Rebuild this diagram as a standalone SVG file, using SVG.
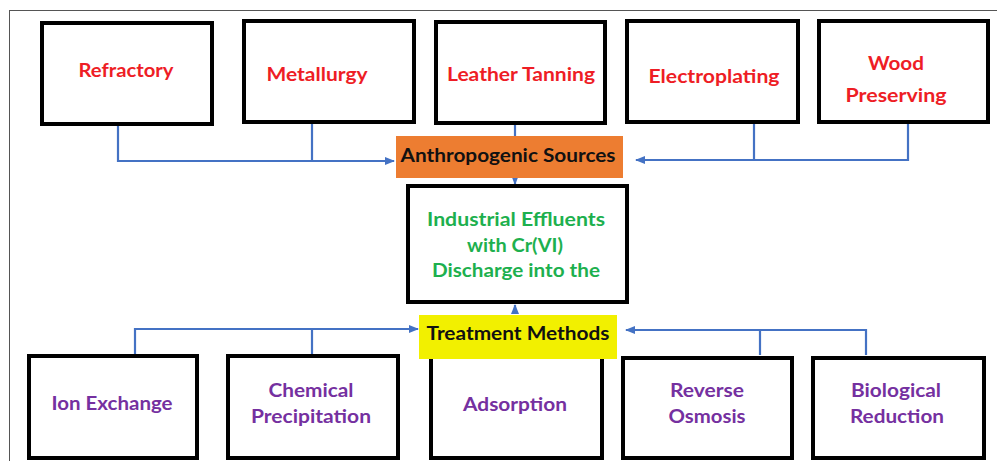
<svg xmlns="http://www.w3.org/2000/svg" width="997" height="461" viewBox="0 0 997 461">
<style>
.box{fill:#fff;stroke:#000;stroke-width:4}
.t{font-family:Lato,"Open Sans","Liberation Sans",sans-serif;font-weight:bold;font-size:19px;text-anchor:middle}
.red{fill:#EE1D25}
.grn{fill:#1DB04E}
.pur{fill:#7530A0}
.blk{fill:#111}
.ln{fill:none;stroke:#4472C4;stroke-width:2.2}
</style>
<defs>
<marker id="ah" markerUnits="userSpaceOnUse" markerWidth="10" markerHeight="10" viewBox="0 0 10 10" refX="9" refY="5" orient="auto">
<path d="M0,1 L10,5 L0,9 Z" fill="#4472C4"/>
</marker>
</defs>
<rect x="0" y="0" width="997" height="461" fill="#fff"/>
<rect x="9.5" y="10.5" width="1000" height="470" fill="none" stroke="#555" stroke-width="1"/>

<g id="connectors">
<path class="ln" d="M118,126 V161 H394" marker-end="url(#ah)"/>
<path class="ln" d="M312,124 V161"/>
<path class="ln" d="M908,124 V160 H636" marker-end="url(#ah)"/>
<path class="ln" d="M754,124 V160"/>
<path class="ln" d="M515,124 V136"/>
<path class="ln" d="M515,178 V184" marker-end="url(#ah)"/>
<path class="ln" d="M515,314 V305" marker-end="url(#ah)"/>
<path class="ln" d="M135,354 V329 H418" marker-end="url(#ah)"/>
<path class="ln" d="M312,354 V329"/>
<path class="ln" d="M866,355 V330 H626" marker-end="url(#ah)"/>
<path class="ln" d="M760,355 V330"/>
</g>

<g id="refractory"><rect class="box" x="42" y="23" width="170" height="101"/>
<text class="t red" x="126" y="77" textLength="95" lengthAdjust="spacingAndGlyphs">Refractory</text></g>
<g id="metallurgy"><rect class="box" x="244" y="21" width="170" height="101"/>
<text class="t red" x="317" y="81" textLength="101" lengthAdjust="spacingAndGlyphs">Metallurgy</text></g>
<g id="leather"><rect class="box" x="436" y="22" width="169" height="101"/>
<text class="t red" x="521" y="81" textLength="148" lengthAdjust="spacingAndGlyphs">Leather Tanning</text></g>
<g id="electroplating"><rect class="box" x="627" y="21" width="171" height="101"/>
<text class="t red" x="714" y="83" textLength="131" lengthAdjust="spacingAndGlyphs">Electroplating</text></g>
<g id="wood"><rect class="box" x="819" y="21" width="169" height="101"/>
<text class="t red" x="896" y="70" textLength="56" lengthAdjust="spacingAndGlyphs">Wood</text>
<text class="t red" x="896" y="102" textLength="101" lengthAdjust="spacingAndGlyphs">Preserving</text></g>

<g id="anthropogenic"><rect x="396" y="136" width="227" height="42" fill="#ED7D31"/>
<text class="t blk" x="508" y="162" textLength="215" lengthAdjust="spacingAndGlyphs">Anthropogenic Sources</text></g>

<g id="effluents"><rect class="box" x="408" y="186" width="219" height="116"/>
<text class="t grn" x="516" y="226" textLength="178" lengthAdjust="spacingAndGlyphs">Industrial Effluents</text>
<text class="t grn" x="515" y="252" textLength="96" lengthAdjust="spacingAndGlyphs">with Cr(VI)</text>
<text class="t grn" x="516" y="277" textLength="168" lengthAdjust="spacingAndGlyphs">Discharge into the</text></g>

<g id="ionexchange"><rect class="box" x="29" y="356" width="168" height="102"/>
<text class="t pur" x="112" y="410" textLength="121" lengthAdjust="spacingAndGlyphs">Ion Exchange</text></g>
<g id="chemical"><rect class="box" x="228" y="356" width="170" height="102"/>
<text class="t pur" x="311" y="397" textLength="85" lengthAdjust="spacingAndGlyphs">Chemical</text>
<text class="t pur" x="311" y="423" textLength="120" lengthAdjust="spacingAndGlyphs">Precipitation</text></g>
<g id="adsorption"><rect class="box" x="431" y="357" width="171" height="101"/>
<text class="t pur" x="515" y="411" textLength="104" lengthAdjust="spacingAndGlyphs">Adsorption</text></g>
<g id="reverseosmosis"><rect class="box" x="623" y="358" width="169" height="100"/>
<text class="t pur" x="707" y="397" textLength="74" lengthAdjust="spacingAndGlyphs">Reverse</text>
<text class="t pur" x="707" y="423" textLength="77" lengthAdjust="spacingAndGlyphs">Osmosis</text></g>
<g id="biological"><rect class="box" x="813" y="358" width="171" height="100"/>
<text class="t pur" x="896" y="397" textLength="90" lengthAdjust="spacingAndGlyphs">Biological</text>
<text class="t pur" x="897" y="423" textLength="94" lengthAdjust="spacingAndGlyphs">Reduction</text></g>

<g id="treatment"><rect x="419" y="315" width="198" height="44" fill="#F2F000"/>
<text class="t blk" x="518" y="340" textLength="183" lengthAdjust="spacingAndGlyphs">Treatment Methods</text></g>
</svg>
